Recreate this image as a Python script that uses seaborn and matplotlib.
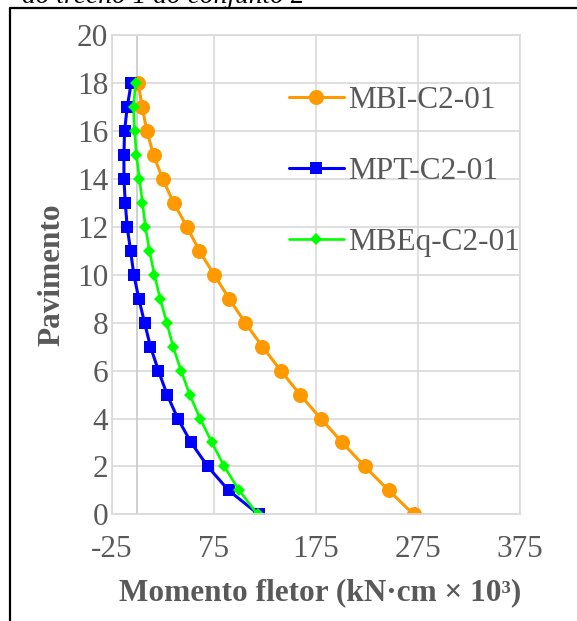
import matplotlib
matplotlib.use("Agg")
import matplotlib.pyplot as plt
from matplotlib.lines import Line2D
import seaborn as sns
import pandas as pd

# ---- data ----
pavimento = list(range(0, 19))
mbi = [271, 246.6, 223, 201, 180, 159.6, 140.8, 122.8, 105.9, 90.2,
       75.6, 60.9, 48.9, 35.8, 25, 16, 9.5, 4.9, 1.0]
mpt = [119, 89.6, 69.1, 52.8, 39.8, 29.3, 20.8, 13, 7.2, 1.6,
       -3.3, -6.5, -9.8, -11.7, -13, -13, -12.4, -9.8, -5.9]
mbeq = [118, 100, 85.3, 73.3, 61.6, 51.5, 43, 35.2, 29, 22.5,
        16.9, 12, 8.1, 5.2, 2.2, -0.7, -2.6, -3.6, -1.6]
series_names = ["MBI-C2-01", "MPT-C2-01", "MBEq-C2-01"]
x_ticks = [-25, 75, 175, 275, 375]
y_ticks = list(range(0, 21, 2))

W, H = 577, 621
sns.set_theme(style="white")
plt.rcParams["font.family"] = ["Liberation Serif", "DejaVu Serif"]

fig = plt.figure(figsize=(W / 100, H / 100), dpi=100)
ax_l, ax_r, ax_t, ax_b = 111.7, 519.6, 35.3, 514.3
ax = fig.add_axes([ax_l / W, 1 - ax_b / H, (ax_r - ax_l) / W, (ax_b - ax_t) / H])

grid_c = "#d9d9d9"
text_c = "#595959"
fs = 22.5

styles = [
    dict(color="#FF9900", marker="o", markersize=10.8, linewidth=2.2),
    dict(color="#0000FF", marker="s", markersize=8.6, linewidth=2.2),
    dict(color="#00FF00", marker="D", markersize=6.5, linewidth=1.9),
]
for name, vals, st in zip(series_names, [mbi, mpt, mbeq], styles):
    df = pd.DataFrame({"m": vals, "p": pavimento})
    sns.lineplot(data=df, x="m", y="p", ax=ax, orient="y", estimator=None,
                 sort=False, label=name, markeredgecolor=st["color"],
                 markeredgewidth=0, **st)

ax.set_xlim(-25, 375)
ax.set_ylim(0, 20)
ax.set_xticks(x_ticks)
ax.set_yticks(y_ticks)
ax.set_xticklabels([str(v) for v in x_ticks])
ax.set_yticklabels([str(v) for v in y_ticks])
ax.grid(True, color=grid_c, linewidth=1.2)
ax.set_axisbelow(True)
for s in ax.spines.values():
    s.set_color(grid_c)
    s.set_linewidth(1.2)
ax.axvline(0, color="#c8c8c8", linewidth=1.2, zorder=1)
ax.tick_params(axis="both", length=0, labelsize=fs, labelcolor=text_c)
ax.tick_params(axis="x", pad=14.9)
ax.tick_params(axis="y", pad=2.4)

ax.set_xlabel("Momento fletor (kN·cm × 10³)", fontsize=fs, fontweight="bold",
              color=text_c, va="top")
ax.xaxis.set_label_coords((320 - ax_l) / (ax_r - ax_l), -(577.8 - ax_b) / (ax_b - ax_t))
ax.set_ylabel("Pavimento", fontsize=fs, fontweight="bold", color=text_c)
ax.yaxis.set_label_coords((66.8 - ax_l) / (ax_r - ax_l), 0.5)

leg = ax.legend(loc="upper left", bbox_to_anchor=(289 / W, 1 - 86 / H),
                bbox_transform=fig.transFigure, frameon=False, fontsize=fs,
                handlelength=1.75, handletextpad=0.15, labelspacing=1.35,
                borderpad=0, borderaxespad=0, labelcolor=text_c)

# cut-off caption line and page frame
fig.text(22 / W, 1 - 3 / H, "do trecho 1 do conjunto 2", fontsize=19.8,
         style="italic", color="black", ha="left", va="baseline")
fig.add_artist(Line2D([10 / W, 10 / W, 1], [0, 1 - 7.5 / H, 1 - 7.5 / H],
                      transform=fig.transFigure, color="black", linewidth=1.6))

fig.savefig("out.png", dpi=100)
